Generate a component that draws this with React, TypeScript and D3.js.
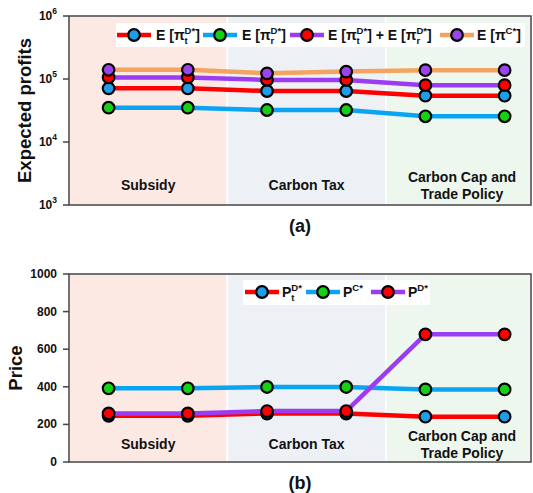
import React from 'react';
import * as d3 from 'd3';

// scenario points (two per policy)
const points = [0, 1, 2, 3, 4, 5];
const policies = ['Subsidy', 'Carbon Tax', 'Carbon Cap and\nTrade Policy'];
const policyFill = ['#fce9e3', '#edf1f6', '#eef7ee'];

// panel (a): expected profits
const profitT = [71000, 71000, 64500, 64500, 54300, 54300];
const profitR = [35000, 35000, 32200, 32200, 25600, 25600];
const profitSum = [106000, 106000, 96700, 96700, 79900, 79900];
const profitC = [140000, 140000, 123000, 131000, 138000, 138000];
const profitTicks = [1e3, 1e4, 1e5, 1e6];

// panel (b): prices
const priceT = [246, 246, 258, 258, 241, 241];
const priceC = [392, 392, 399, 399, 386, 386];
const priceD = [258, 258, 271, 271, 679, 679];
const priceTicks = [0, 200, 400, 600, 800, 1000];

const RED = '#ff0000';
const BLUE = '#0aa5f2';
const PURPLE = '#9b3cf3';
const ORANGE = '#f4a460';
const M_BLUE = '#1e9de8';
const M_GREEN = '#16d016';
const M_RED = '#ff0000';
const M_PURPLE = '#9a44ee';

const FONT = "'Liberation Sans', Arial, sans-serif";
const AXIS = '#444';

const left = 69;
const right = 531;
const x = d3.scaleLinear().domain([-0.5, 5.333]).range([left, right]);

// approximate bold Arial widths for script glyphs
const cw: Record<string, number> = { D: 0.722, C: 0.722, '*': 0.389, t: 0.333, r: 0.389 };
const wid = (s: string, fs: number) => s.split('').reduce((a, c) => a + (cw[c] ?? 0.556) * fs, 0);

type Part = string | { sup: string; sub?: string };

const Script = ({ x0, y0, parts, fs = 14 }: { x0: number; y0: number; parts: Part[]; fs?: number }) => {
  const ss = fs * 0.68;
  const spans: React.ReactNode[] = [];
  let shift = 0; // current baseline offset
  let pendDx = 0;
  parts.forEach((p, i) => {
    if (typeof p === 'string') {
      spans.push(
        <tspan key={i} dy={-shift} dx={pendDx}>{p}</tspan>
      );
      shift = 0;
      pendDx = 0;
    } else {
      const up = -fs * 0.42;
      spans.push(
        <tspan key={i + 's'} dy={up - shift} fontSize={ss}>{p.sup}</tspan>
      );
      shift = up;
      if (p.sub) {
        const down = fs * 0.3;
        spans.push(
          <tspan key={i + 'b'} dx={-wid(p.sup, ss)} dy={down - shift} fontSize={ss}>{p.sub}</tspan>
        );
        shift = down;
        pendDx = wid(p.sup, ss) - wid(p.sub, ss);
      }
    }
  });
  return (
    <text x={x0} y={y0} fontSize={fs} fontWeight="bold" fontFamily={FONT} fill="#111">
      {spans}
    </text>
  );
};

type Series = { values: number[]; line: string; marker: string };

const Panel = ({
  top, bottom, y, ticks, tickLabel, series, labelY, title, titleX, tag, tagY,
  legend, legendBox,
}: any) => {
  const line = d3.line<number>().x((_, i) => x(points[i])).y((v) => y(v));
  const bounds = [-0.5, 1.5, 3.5, 5.333];
  return (
    <g>
      {policies.map((p, i) => (
        <rect key={p} x={x(bounds[i])} y={top} width={x(bounds[i + 1]) - x(bounds[i])} height={bottom - top}
          fill={policyFill[i]} stroke="#fff" strokeWidth={1.5} />
      ))}
      {policies.map((p, i) => {
        const lines = p.split('\n');
        const cx = i === 2 ? 462 : (x(bounds[i]) + x(bounds[i + 1])) / 2;
        return (
          <text key={p} x={cx} textAnchor="middle" fontSize={14} fontWeight="bold" fontFamily={FONT} fill="#111">
            {lines.map((l: string, j: number) => (
              <tspan key={j} x={cx} y={lines.length > 1 ? labelY[1] + j * 17 : labelY[0]}>{l}</tspan>
            ))}
          </text>
        );
      })}
      {series.map((s: Series, k: number) => (
        <g key={k}>
          <path d={line(s.values) || ''} fill="none" stroke={s.line} strokeWidth={4.5} strokeLinejoin="round" />
          {s.values.map((v, i) => (
            <circle key={i} cx={x(points[i])} cy={y(v)} r={5.8} fill={s.marker} stroke="#000" strokeWidth={2.2} />
          ))}
        </g>
      ))}
      <rect x={legendBox[0]} y={legendBox[1]} width={legendBox[2]} height={legendBox[3]} fill="#fff" />
      {legend.map((l: any, k: number) => (
        <g key={k}>
          <line x1={l.mx - 17} x2={l.mx + 17} y1={l.y} y2={l.y} stroke={series[k].line} strokeWidth={4.5} />
          <circle cx={l.mx} cy={l.y} r={5.8} fill={series[k].marker} stroke="#000" strokeWidth={2.2} />
          <Script x0={l.tx} y0={l.y + 5} parts={l.parts} />
        </g>
      ))}
      <rect x={left} y={top} width={right - left} height={bottom - top} fill="none" stroke={AXIS} strokeWidth={1.5} />
      {ticks.map((t: number) => (
        <g key={t}>
          <line x1={left - 6} x2={left} y1={y(t)} y2={y(t)} stroke={AXIS} strokeWidth={1.5} />
          {tickLabel(t, y(t))}
        </g>
      ))}
      <text transform={`translate(${titleX},${(top + bottom) / 2}) rotate(-90)`} textAnchor="middle"
        fontSize={18.5} fontWeight="bold" fontFamily={FONT} fill="#111">{title}</text>
      <text x={(left + right) / 2} y={tagY} textAnchor="middle" fontSize={18} fontWeight="bold" fontFamily={FONT} fill="#111">{tag}</text>
    </g>
  );
};

export default function App() {
  const yA = d3.scaleLog().domain([1e3, 1e6]).range([205, 16]);
  const yB = d3.scaleLinear().domain([0, 1000]).range([462, 274]);

  const seriesA: Series[] = [
    { values: profitT, line: RED, marker: M_BLUE },
    { values: profitR, line: BLUE, marker: M_GREEN },
    { values: profitSum, line: PURPLE, marker: M_RED },
    { values: profitC, line: ORANGE, marker: M_PURPLE },
  ];
  const seriesB: Series[] = [
    { values: priceT, line: RED, marker: M_BLUE },
    { values: priceC, line: BLUE, marker: M_GREEN },
    { values: priceD, line: PURPLE, marker: M_RED },
  ];

  const legendA = [
    { mx: 134, tx: 156, y: 35, parts: ['E [π', { sup: 'D*', sub: 't' }, ']'] },
    { mx: 220, tx: 242, y: 35, parts: ['E [π', { sup: 'D*', sub: 'r' }, ']'] },
    { mx: 307, tx: 328, y: 35, parts: ['E [π', { sup: 'D*', sub: 't' }, '] + E [π', { sup: 'D*', sub: 'r' }, ']'] },
    { mx: 457, tx: 477, y: 35, parts: ['E [π', { sup: 'C*' }, ']'] },
  ];
  const legendB = [
    { mx: 262, tx: 282, y: 292, parts: ['P', { sup: 'D*', sub: 't' }] },
    { mx: 323, tx: 343, y: 292, parts: ['P', { sup: 'C*' }] },
    { mx: 388, tx: 408, y: 292, parts: ['P', { sup: 'D*' }] },
  ];

  const logLabel = (t: number, ty: number) => (
    <text x={57} y={ty + 4} textAnchor="end" fontSize={12} fontWeight="bold" fontFamily={FONT} fill="#111">
      10<tspan dy={-6} fontSize={8.5}>{Math.round(Math.log10(t))}</tspan>
    </text>
  );
  const linLabel = (t: number, ty: number) => (
    <text x={57} y={ty + 4} textAnchor="end" fontSize={12} fontWeight="bold" fontFamily={FONT} fill="#111">{t}</text>
  );

  return (
    <svg width={533} height={493} style={{ position: 'absolute', left: 0, top: 0, background: '#fff' }}>
      <Panel top={16} bottom={205} y={yA} ticks={profitTicks} tickLabel={logLabel} series={seriesA}
        labelY={[190, 182]} title="Expected profits" titleX={31} tag="(a)" tagY={232}
        legend={legendA} legendBox={[116, 23, 409, 24]} />
      <Panel top={274} bottom={462} y={yB} ticks={priceTicks} tickLabel={linLabel} series={seriesB}
        labelY={[449, 441]} title="Price" titleX={22} tag="(b)" tagY={489}
        legend={legendB} legendBox={[243, 280, 187, 25]} />
    </svg>
  );
}
